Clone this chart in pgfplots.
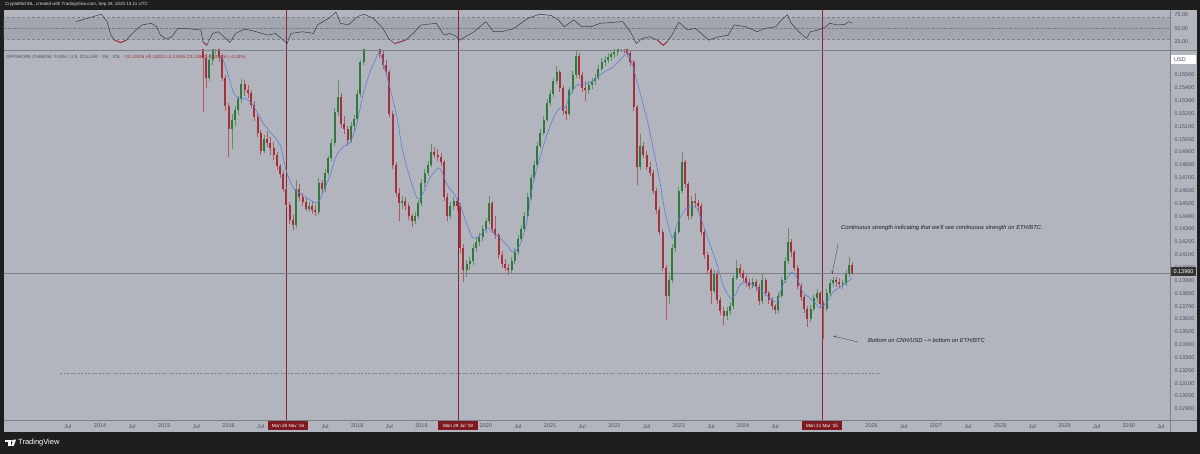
\documentclass[border=0pt]{standalone}
\usepackage{fontspec}
\setmainfont{Liberation Sans}
\usepackage{pgfplots}
\usepackage{pgfplotstable}
\pgfplotsset{compat=1.18}
\usetikzlibrary{arrows.meta}

\definecolor{frame}{HTML}{1E1E1E}
\definecolor{chartbg}{HTML}{B2B5BE}
\definecolor{bandbg}{HTML}{A3A6AF}
\definecolor{upc}{HTML}{2F7A3A}
\definecolor{dnc}{HTML}{A3303A}
\definecolor{smac}{HTML}{5D7FD8}
\definecolor{axtext}{HTML}{4E515C}
\definecolor{vline}{HTML}{8A2630}
\definecolor{datebox}{HTML}{7E1A1F}
\definecolor{sepline}{HTML}{7D8089}
\definecolor{rsiline}{HTML}{3A3B40}

\newcommand\tvfont{\fontsize{5.5}{6.5}\selectfont}

% weekly-ish candles of CNH/USD (x = decimal year)
\pgfplotstableread{
x o h l c
2015.50 0.1612 0.1616 0.1608 0.1610
2015.55 0.1610 0.1612 0.1606 0.1609
2015.60 0.1609 0.1611 0.1521 0.1563
2015.65 0.1563 0.1566 0.1540 0.1548
2015.70 0.1548 0.1566 0.1545 0.1562
2015.75 0.1562 0.1575 0.1558 0.1571
2015.80 0.1571 0.1580 0.1566 0.1576
2015.85 0.1576 0.1578 0.1560 0.1564
2015.90 0.1564 0.1566 0.1545 0.1548
2015.95 0.1548 0.1550 0.1522 0.1526
2016.00 0.1526 0.1528 0.1486 0.1508
2016.05 0.1508 0.1520 0.1492 0.1515
2016.10 0.1515 0.1526 0.1510 0.1523
2016.15 0.1523 0.1534 0.1519 0.1531
2016.20 0.1531 0.1547 0.1528 0.1543
2016.25 0.1543 0.1546 0.1534 0.1538
2016.30 0.1538 0.1542 0.1532 0.1536
2016.35 0.1536 0.1538 0.1524 0.1527
2016.40 0.1527 0.1530 0.1514 0.1517
2016.45 0.1517 0.1520 0.1502 0.1505
2016.50 0.1505 0.1507 0.1488 0.1491
2016.55 0.1491 0.1503 0.1489 0.1500
2016.60 0.1500 0.1506 0.1494 0.1497
2016.65 0.1497 0.1502 0.1488 0.1493
2016.70 0.1493 0.1498 0.1484 0.1488
2016.75 0.1488 0.1490 0.1476 0.1479
2016.80 0.1479 0.1481 0.1470 0.1473
2016.85 0.1473 0.1475 0.1459 0.1461
2016.90 0.1461 0.1463 0.1447 0.1449
2016.95 0.1449 0.1451 0.1434 0.1437
2017.00 0.1437 0.1441 0.1429 0.1433
2017.05 0.1433 0.1468 0.1431 0.1461
2017.10 0.1461 0.1465 0.1452 0.1455
2017.15 0.1455 0.1458 0.1448 0.1451
2017.20 0.1451 0.1454 0.1444 0.1446
2017.25 0.1446 0.1451 0.1443 0.1448
2017.30 0.1448 0.1452 0.1442 0.1445
2017.35 0.1445 0.1449 0.1440 0.1443
2017.40 0.1443 0.1470 0.1441 0.1466
2017.45 0.1466 0.1468 0.1458 0.1461
2017.50 0.1461 0.1477 0.1459 0.1474
2017.55 0.1474 0.1487 0.1472 0.1485
2017.60 0.1485 0.1500 0.1483 0.1497
2017.65 0.1497 0.1524 0.1495 0.1521
2017.70 0.1521 0.1546 0.1518 0.1533
2017.75 0.1533 0.1536 0.1509 0.1512
2017.80 0.1512 0.1518 0.1504 0.1508
2017.85 0.1508 0.1510 0.1495 0.1499
2017.90 0.1499 0.1513 0.1497 0.1510
2017.95 0.1510 0.1519 0.1506 0.1516
2018.00 0.1516 0.1538 0.1514 0.1535
2018.05 0.1535 0.1562 0.1533 0.1560
2018.10 0.1560 0.1583 0.1558 0.1580
2018.15 0.1580 0.1588 0.1576 0.1585
2018.20 0.1585 0.1593 0.1582 0.1590
2018.25 0.1590 0.1594 0.1584 0.1588
2018.30 0.1588 0.1590 0.1577 0.1580
2018.35 0.1580 0.1582 0.1563 0.1566
2018.40 0.1566 0.1569 0.1555 0.1558
2018.45 0.1558 0.1562 0.1549 0.1552
2018.50 0.1552 0.1554 0.1517 0.1520
2018.55 0.1520 0.1522 0.1477 0.1480
2018.60 0.1480 0.1482 0.1455 0.1458
2018.65 0.1458 0.1462 0.1436 0.1450
2018.70 0.1450 0.1456 0.1446 0.1452
2018.75 0.1452 0.1455 0.1445 0.1448
2018.80 0.1448 0.1450 0.1437 0.1440
2018.85 0.1440 0.1442 0.1432 0.1436
2018.90 0.1436 0.1443 0.1434 0.1440
2018.95 0.1440 0.1453 0.1438 0.1450
2019.00 0.1450 0.1469 0.1448 0.1466
2019.05 0.1466 0.1477 0.1463 0.1474
2019.10 0.1474 0.1483 0.1471 0.1480
2019.15 0.1480 0.1496 0.1478 0.1490
2019.20 0.1490 0.1494 0.1485 0.1488
2019.25 0.1488 0.1492 0.1483 0.1486
2019.30 0.1486 0.1489 0.1479 0.1482
2019.35 0.1482 0.1484 0.1452 0.1455
2019.40 0.1455 0.1458 0.1436 0.1440
2019.45 0.1440 0.1451 0.1438 0.1448
2019.50 0.1448 0.1455 0.1445 0.1452
2019.55 0.1452 0.1454 0.1444 0.1448
2019.60 0.1448 0.1450 0.1411 0.1415
2019.65 0.1415 0.1418 0.1389 0.1398
2019.70 0.1398 0.1406 0.1393 0.1403
2019.75 0.1403 0.1408 0.1398 0.1405
2019.80 0.1405 0.1418 0.1402 0.1415
2019.85 0.1415 0.1423 0.1412 0.1420
2019.90 0.1420 0.1427 0.1417 0.1424
2019.95 0.1424 0.1433 0.1421 0.1430
2020.00 0.1430 0.1439 0.1427 0.1436
2020.05 0.1436 0.1456 0.1434 0.1450
2020.10 0.1450 0.1452 0.1427 0.1430
2020.15 0.1430 0.1440 0.1422 0.1425
2020.20 0.1425 0.1427 0.1407 0.1410
2020.25 0.1410 0.1413 0.1400 0.1403
2020.30 0.1403 0.1407 0.1397 0.1400
2020.35 0.1400 0.1403 0.1394 0.1398
2020.40 0.1398 0.1408 0.1396 0.1405
2020.45 0.1405 0.1415 0.1403 0.1412
2020.50 0.1412 0.1425 0.1410 0.1422
2020.55 0.1422 0.1433 0.1420 0.1430
2020.60 0.1430 0.1443 0.1428 0.1440
2020.65 0.1440 0.1458 0.1438 0.1455
2020.70 0.1455 0.1473 0.1453 0.1470
2020.75 0.1470 0.1483 0.1468 0.1480
2020.80 0.1480 0.1498 0.1478 0.1495
2020.85 0.1495 0.1508 0.1493 0.1505
2020.90 0.1505 0.1518 0.1503 0.1515
2020.95 0.1515 0.1531 0.1513 0.1528
2021.00 0.1528 0.1538 0.1526 0.1535
2021.05 0.1535 0.1548 0.1533 0.1545
2021.10 0.1545 0.1557 0.1543 0.1552
2021.15 0.1552 0.1554 0.1537 0.1540
2021.20 0.1540 0.1542 0.1519 0.1522
2021.25 0.1522 0.1526 0.1515 0.1520
2021.30 0.1520 0.1541 0.1518 0.1538
2021.35 0.1538 0.1553 0.1536 0.1550
2021.40 0.1550 0.1569 0.1548 0.1565
2021.45 0.1565 0.1567 0.1547 0.1550
2021.50 0.1550 0.1552 0.1537 0.1540
2021.55 0.1540 0.1545 0.1530 0.1538
2021.60 0.1538 0.1545 0.1535 0.1542
2021.65 0.1542 0.1548 0.1539 0.1545
2021.70 0.1545 0.1551 0.1542 0.1548
2021.75 0.1548 0.1558 0.1546 0.1555
2021.80 0.1555 0.1563 0.1553 0.1560
2021.85 0.1560 0.1565 0.1557 0.1562
2021.90 0.1562 0.1567 0.1559 0.1564
2021.95 0.1564 0.1568 0.1561 0.1566
2022.00 0.1566 0.1570 0.1563 0.1568
2022.05 0.1568 0.1573 0.1565 0.1570
2022.10 0.1570 0.1575 0.1568 0.1572
2022.15 0.1572 0.1574 0.1567 0.1570
2022.20 0.1570 0.1572 0.1564 0.1567
2022.25 0.1567 0.1569 0.1557 0.1560
2022.30 0.1560 0.1562 0.1522 0.1525
2022.35 0.1525 0.1527 0.1464 0.1478
2022.40 0.1478 0.1504 0.1476 0.1495
2022.45 0.1495 0.1498 0.1485 0.1488
2022.50 0.1488 0.1491 0.1476 0.1478
2022.55 0.1478 0.1482 0.1471 0.1474
2022.60 0.1474 0.1476 0.1457 0.1460
2022.65 0.1460 0.1462 0.1442 0.1445
2022.70 0.1445 0.1447 0.1425 0.1428
2022.75 0.1428 0.1430 0.1397 0.1400
2022.80 0.1400 0.1402 0.1359 0.1378
2022.85 0.1378 0.1394 0.1372 0.1390
2022.90 0.1390 0.1418 0.1388 0.1415
2022.95 0.1415 0.1431 0.1412 0.1428
2023.00 0.1428 0.1463 0.1426 0.1460
2023.05 0.1460 0.1490 0.1458 0.1482
2023.10 0.1482 0.1484 0.1462 0.1465
2023.15 0.1465 0.1467 0.1437 0.1440
2023.20 0.1440 0.1456 0.1438 0.1452
2023.25 0.1452 0.1458 0.1447 0.1450
2023.30 0.1450 0.1453 0.1444 0.1448
2023.35 0.1448 0.1450 0.1425 0.1428
2023.40 0.1428 0.1430 0.1407 0.1410
2023.45 0.1410 0.1412 0.1395 0.1398
2023.50 0.1398 0.1400 0.1372 0.1382
2023.55 0.1382 0.1398 0.1380 0.1395
2023.60 0.1395 0.1397 0.1372 0.1375
2023.65 0.1375 0.1377 0.1363 0.1366
2023.70 0.1366 0.1369 0.1355 0.1362
2023.75 0.1362 0.1369 0.1359 0.1366
2023.80 0.1366 0.1373 0.1363 0.1370
2023.85 0.1370 0.1394 0.1368 0.1392
2023.90 0.1392 0.1406 0.1390 0.1400
2023.95 0.1400 0.1403 0.1393 0.1396
2024.00 0.1396 0.1398 0.1389 0.1392
2024.05 0.1392 0.1394 0.1385 0.1388
2024.10 0.1388 0.1391 0.1383 0.1386
2024.15 0.1386 0.1392 0.1384 0.1389
2024.20 0.1389 0.1391 0.1382 0.1385
2024.25 0.1385 0.1387 0.1371 0.1374
2024.30 0.1374 0.1396 0.1372 0.1390
2024.35 0.1390 0.1392 0.1378 0.1380
2024.40 0.1380 0.1382 0.1372 0.1375
2024.45 0.1375 0.1377 0.1367 0.1370
2024.50 0.1370 0.1372 0.1364 0.1367
2024.55 0.1367 0.1381 0.1365 0.1378
2024.60 0.1378 0.1393 0.1376 0.1390
2024.65 0.1390 0.1408 0.1388 0.1405
2024.70 0.1405 0.1431 0.1403 0.1420
2024.75 0.1420 0.1422 0.1408 0.1412
2024.80 0.1412 0.1414 0.1397 0.1400
2024.85 0.1400 0.1402 0.1383 0.1386
2024.90 0.1386 0.1388 0.1374 0.1377
2024.95 0.1377 0.1379 0.1365 0.1368
2025.00 0.1368 0.1370 0.1354 0.1360
2025.05 0.1360 0.1371 0.1358 0.1368
2025.10 0.1368 0.1379 0.1366 0.1376
2025.15 0.1376 0.1383 0.1373 0.1380
2025.20 0.1380 0.1382 0.1369 0.1372
2025.25 0.1372 0.1374 0.1344 0.1368
2025.30 0.1368 0.1383 0.1366 0.1380
2025.35 0.1380 0.1391 0.1378 0.1388
2025.40 0.1388 0.1393 0.1385 0.1390
2025.45 0.1390 0.1393 0.1385 0.1389
2025.50 0.1389 0.1392 0.1384 0.1387
2025.55 0.1387 0.1390 0.1383 0.1388
2025.60 0.1388 0.1398 0.1386 0.1395
2025.65 0.1395 0.1408 0.1393 0.1402
2025.70 0.1402 0.1404 0.1394 0.1396
}\candles

\begin{document}
\begin{tikzpicture}[x=1pt,y=1pt]
\useasboundingbox (0,0) rectangle (1200,454);
\fill[frame] (0,0) rectangle (1200,454);
\fill[chartbg] (4,22) rectangle (1197,444);

% ---------------- RSI pane ----------------
\begin{axis}[
  at={(4pt,404pt)}, anchor=south west, scale only axis,
  width=1166pt, height=40pt,
  xmin=2012.507, xmax=2030.641, ymin=10, ymax=84,
  axis line style={draw=none}, major tick length=0pt,
  xtick=\empty, ytick={25,50,75}, yticklabel pos=right,
  scaled y ticks=false,
  yticklabel style={font=\tvfont, text=axtext, xshift=1pt,
    /pgf/number format/.cd, fixed, precision=2, zerofill, assume math mode=true},
]
\fill[bandbg] (axis cs:2012.4,30) rectangle (axis cs:2030.7,70);
\draw[sepline, densely dashed, line width=0.4pt] (axis cs:2012.4,70) -- (axis cs:2030.7,70);
\draw[sepline, densely dashed, line width=0.4pt] (axis cs:2012.4,30) -- (axis cs:2030.7,30);
\draw[sepline, densely dotted, line width=0.3pt] (axis cs:2012.4,50) -- (axis cs:2030.7,50);
\draw[vline, line width=1pt] (axis cs:2016.907,0) -- (axis cs:2016.907,100);
\draw[vline, line width=1pt] (axis cs:2019.573,0) -- (axis cs:2019.573,100);
\draw[vline, line width=1pt] (axis cs:2025.244,0) -- (axis cs:2025.244,100);
\addplot[rsiline, line width=0.5pt] coordinates {
(2013.63,62.5)(2013.81,68.8)(2014.02,76.3)(2014.11,62.5)(2014.17,37.5)(2014.23,28.1)
(2014.32,23.8)(2014.41,28.1)(2014.50,40.6)(2014.65,56.3)(2014.80,59.4)(2014.88,53.1)
(2014.94,37.5)(2015.03,30.0)(2015.12,34.4)(2015.21,50.0)(2015.30,50.0)(2015.42,48.8)
(2015.57,46.9)(2015.60,25.0)(2015.66,18.8)(2015.75,40.6)(2015.84,43.8)(2015.93,34.4)
(2016.02,23.8)(2016.11,40.6)(2016.25,48.8)(2016.43,43.8)(2016.61,37.5)(2016.73,40.6)
(2016.82,31.3)(2016.91,21.9)(2016.97,40.6)(2017.15,43.8)(2017.32,40.6)(2017.38,56.3)
(2017.56,68.8)(2017.67,80.0)(2017.74,59.4)(2017.86,56.3)(2018.01,71.9)(2018.10,76.3)
(2018.25,68.8)(2018.40,50.0)(2018.49,31.3)(2018.58,21.9)(2018.75,28.1)(2018.87,40.6)
(2018.99,56.3)(2019.23,59.4)(2019.35,37.5)(2019.44,40.6)(2019.53,36.3)(2019.59,28.1)
(2019.68,34.4)(2019.82,43.8)(2020.00,62.5)(2020.12,43.8)(2020.24,43.8)(2020.42,48.8)
(2020.66,68.8)(2020.84,76.3)(2021.02,73.8)(2021.13,65.6)(2021.22,53.1)(2021.37,65.6)
(2021.49,53.1)(2021.64,53.1)(2021.78,59.4)(2022.13,62.5)(2022.25,43.8)(2022.34,21.9)
(2022.43,31.3)(2022.55,34.4)(2022.67,28.1)(2022.76,18.8)(2022.82,25.0)(2022.91,40.6)
(2023.00,61.3)(2023.14,46.9)(2023.26,50.0)(2023.38,37.5)(2023.47,28.1)(2023.62,34.4)
(2023.77,37.5)(2023.86,56.3)(2024.04,53.1)(2024.22,43.8)(2024.34,50.0)(2024.51,53.1)
(2024.60,65.6)(2024.69,75.0)(2024.75,59.4)(2024.87,43.8)(2024.99,31.3)(2025.05,43.8)
(2025.17,46.9)(2025.29,53.1)(2025.35,59.4)(2025.47,56.3)(2025.59,57.5)(2025.64,62.5)
(2025.70,59.4)};
% oversold stretches in red
\addplot[dnc, line width=0.9pt, restrict y to domain=0:30, unbounded coords=jump] coordinates {
(2014.17,37.5)(2014.23,28.1)(2014.32,23.8)(2014.41,28.1)(2014.50,40.6)
(2015.57,46.9)(2015.60,25.0)(2015.66,18.8)(2015.75,40.6)
(2018.40,50.0)(2018.58,21.9)(2018.75,28.1)(2018.87,40.6)
(2022.55,34.4)(2022.67,28.1)(2022.76,18.8)(2022.82,25.0)(2022.91,40.6)};
\end{axis}

% ---------------- price pane ----------------
\begin{axis}[
  at={(4pt,34pt)}, anchor=south west, scale only axis,
  width=1166pt, height=370pt,
  xmin=2012.507, xmax=2030.641, ymin=0.128131, ymax=0.156947,
  axis line style={draw=none}, major tick length=0pt,
  scaled y ticks=false, scaled x ticks=false,
  ytick={0.128,0.129,0.130,0.131,0.132,0.133,0.134,0.135,0.136,0.137,0.138,0.139,
         0.140,0.141,0.142,0.143,0.144,0.145,0.146,0.147,0.148,0.149,0.150,0.151,
         0.152,0.153,0.154,0.155},
  yticklabel pos=right,
  yticklabel style={font=\tvfont, text=axtext, xshift=1pt,
    /pgf/number format/.cd, fixed, precision=5, zerofill, assume math mode=true},
  xtick={2013.5,2014,2014.5,2015,2015.5,2016,2016.5,2017.5,2018,2018.5,2019,
         2020,2020.5,2021,2021.5,2022,2022.5,2023,2023.5,2024,2024.5,
         2026,2026.5,2027,2027.5,2028,2028.5,2029,2029.5,2030,2030.5},
  xticklabels={Jul,2014,Jul,2015,Jul,2016,Jul,Jul,2018,Jul,2019,
               2020,Jul,2021,Jul,2022,Jul,2023,Jul,2024,Jul,
               2026,Jul,2027,Jul,2028,Jul,2029,Jul,2030,Jul},
  xticklabel style={font=\tvfont, text=axtext, yshift=-0.5pt},
]
\draw[vline, line width=1pt] (axis cs:2016.907,0.12) -- (axis cs:2016.907,0.16);
\draw[vline, line width=1pt] (axis cs:2019.573,0.12) -- (axis cs:2019.573,0.16);
\draw[vline, line width=1pt] (axis cs:2025.244,0.12) -- (axis cs:2025.244,0.16);
% last price line and the dashed level
\addplot[sepline, line width=0.4pt] coordinates {(2012.4,0.1396) (2030.7,0.1396)};
\addplot[sepline, line width=0.4pt, dash pattern=on 2pt off 1.5pt] coordinates {(2013.38,0.13179) (2026.13,0.13179)};
% wicks
\addplot[draw=none, mark=none, restrict expr to domain={\thisrow{c}-\thisrow{o}}{0:1},
  error bars/.cd, y dir=plus, y explicit, error mark=none,
  error bar style={draw=upc!80!white, line width=0.5pt}]
  table[x=x, y=l, y error plus expr=\thisrow{h}-\thisrow{l}] {\candles};
\addplot[draw=none, mark=none, restrict expr to domain={\thisrow{o}-\thisrow{c}}{0:1},
  error bars/.cd, y dir=plus, y explicit, error mark=none,
  error bar style={draw=dnc!80!white, line width=0.5pt}]
  table[x=x, y=l, y error plus expr=\thisrow{h}-\thisrow{l}] {\candles};
% bodies
\addplot[draw=none, mark=none, restrict expr to domain={\thisrow{c}-\thisrow{o}}{0:1},
  error bars/.cd, y dir=plus, y explicit, error mark=none,
  error bar style={draw=upc, line width=2pt}]
  table[x=x, y=o, y error plus expr=\thisrow{c}-\thisrow{o}] {\candles};
\addplot[draw=none, mark=none, restrict expr to domain={\thisrow{o}-\thisrow{c}}{0:1},
  error bars/.cd, y dir=plus, y explicit, error mark=none,
  error bar style={draw=dnc, line width=2pt}]
  table[x=x, y=c, y error plus expr=\thisrow{o}-\thisrow{c}] {\candles};
% moving average
\addplot[smac, line width=0.6pt, smooth, tension=0.4] coordinates {
(2015.89,0.15656)(2015.995,0.1550)(2016.07,0.1537)(2016.15,0.15318)(2016.255,0.15318)
(2016.36,0.1528)(2016.44,0.15214)(2016.54,0.15124)(2016.644,0.15058)(2016.80,0.14955)
(2016.90,0.14747)(2017.01,0.14618)(2017.11,0.14579)(2017.37,0.14503)(2017.47,0.14589)
(2017.58,0.14721)(2017.68,0.14877)(2017.78,0.14939)(2017.89,0.14978)(2017.99,0.1511)
(2018.09,0.15344)(2018.20,0.15523)(2018.30,0.1564)(2018.35,0.15679)(2018.40,0.15601)
(2018.51,0.15399)(2018.62,0.15165)(2018.71,0.149)(2018.82,0.14698)(2018.93,0.14542)
(2019.01,0.14565)(2019.13,0.14698)(2019.26,0.14776)(2019.32,0.14745)(2019.40,0.14643)
(2019.52,0.14565)(2019.60,0.14488)(2019.71,0.14332)(2019.80,0.1423)(2019.91,0.14254)
(2020.02,0.14308)(2020.11,0.14277)(2020.22,0.1423)(2020.33,0.14176)(2020.42,0.14121)
(2020.53,0.14176)(2020.64,0.14355)(2020.73,0.14643)(2020.84,0.14854)(2020.95,0.15033)
(2021.05,0.15165)(2021.15,0.15243)(2021.23,0.15243)(2021.31,0.15344)(2021.42,0.15422)
(2021.62,0.15438)(2021.82,0.15516)(2021.98,0.15562)(2022.13,0.1564)(2022.21,0.15671)
(2022.29,0.15562)(2022.40,0.1536)(2022.51,0.1515)(2022.60,0.14939)(2022.71,0.14659)
(2022.79,0.14425)(2022.90,0.1423)(2022.97,0.14332)(2023.07,0.14433)(2023.17,0.14472)
(2023.28,0.14464)(2023.38,0.14332)(2023.49,0.14176)(2023.60,0.1402)(2023.69,0.13864)
(2023.80,0.13763)(2023.88,0.13787)(2023.95,0.13864)(2024.06,0.13888)(2024.16,0.13864)
(2024.31,0.1381)(2024.42,0.13763)(2024.53,0.13732)(2024.62,0.13864)(2024.76,0.13966)
(2024.84,0.13919)(2024.93,0.1381)(2025.04,0.13763)(2025.15,0.13709)(2025.20,0.13685)
(2025.31,0.13732)(2025.40,0.1381)(2025.56,0.13864)(2025.70,0.13919)};
\end{axis}

% pane separators
\draw[sepline, line width=0.8pt] (4,404) -- (1197,404);
\draw[sepline, line width=0.6pt] (4,34) -- (1197,34);
\draw[sepline, line width=0.6pt] (1170,22) -- (1170,444);

% right-axis markers
\fill[white] (1171,390) rectangle (1196,399);
\node[anchor=west, inner sep=0, font=\tvfont, text=axtext] at (1174,394.5) {USD};
\fill[frame!90!white] (1171,178) rectangle (1196,187);
\node[anchor=center, inner sep=0, font=\tvfont, text=white] at (1183.5,182.5) {0.13960};

% date markers on the time axis
\fill[datebox] (268,23.5) rectangle (308,33);
\node[inner sep=0, font=\fontsize{4.6}{5}\selectfont, text=white] at (288,28.2) {Mon 28 Nov '16};
\fill[datebox] (438,23.5) rectangle (478,33);
\node[inner sep=0, font=\fontsize{4.6}{5}\selectfont, text=white] at (458,28.2) {Mon 29 Jul '19};
\fill[datebox] (802,23.5) rectangle (842,33);
\node[inner sep=0, font=\fontsize{4.6}{5}\selectfont, text=white] at (822,28.2) {Mon 31 Mar '25};

% header lines
\node[anchor=west, inner sep=0, font=\fontsize{4.5}{5}\selectfont, text=white!85!black] at (5,449.5)
  {CryptoMichNL, created with TradingView.com, Sep 28, 2025 13:11 UTC};
\node[anchor=west, inner sep=0, font=\fontsize{4.5}{5}\selectfont, text=axtext] at (6,397)
  {OFFSHORE CHINESE YUAN / U.S. DOLLAR · 1W · ICE\quad
   \textcolor{dnc}{O0.14006 H0.14021 L0.13955 C0.13960 −0.00046 (−0.33\%)}};

% annotations
\node[anchor=west, inner sep=0, font=\fontsize{5.8}{7}\selectfont\itshape, text=frame] at (841,226)
  {Continuous strength indicating that we'll see continuous strength on ETH/BTC.};
\draw[frame!80, line width=0.4pt, -{Stealth[length=3pt,width=2pt]}] (838,210) -- (832,180);
\node[anchor=west, inner sep=0, font=\fontsize{5.8}{7}\selectfont\itshape, text=frame] at (868,114)
  {Bottom on CNH/USD --> bottom on ETH/BTC};
\draw[frame!80, line width=0.4pt, -{Stealth[length=3pt,width=2pt]}] (858,112) -- (833,118);

% logo
\fill[white] (5,12.3) rectangle (10.5,14.3);
\fill[white] (8.3,8) rectangle (10.5,14.3);
\fill[white] (12.2,13.1) circle (1.1);
\fill[white] (13.6,14.3) -- (16,14.3) -- (13.6,8) -- (11.2,8) -- cycle;
\node[anchor=west, inner sep=0, font=\fontsize{7.5}{8}\selectfont, text=white] at (18,11) {TradingView};
\end{tikzpicture}
\end{document}
